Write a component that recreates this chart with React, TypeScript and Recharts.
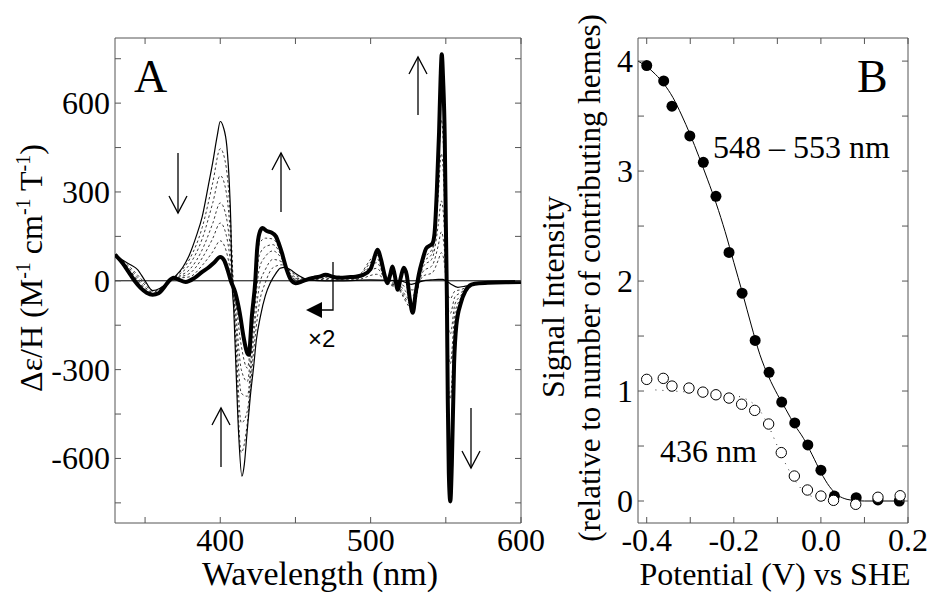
import React from "react";
import { ComposedChart, Line, Scatter, XAxis, YAxis, ReferenceLine, ReferenceArea } from "recharts";

// ---- panel A: spectra (nm, Δε/H) ----
const thickNm = [330, 335, 339, 343, 347, 351, 355, 359, 363, 366, 369, 372, 377, 383, 388, 392, 396, 400, 402.5, 405, 407, 410, 413, 415.5, 418, 419, 421, 423.3, 424.5, 426, 428, 431, 434, 437, 439, 441, 444, 447, 450, 454, 458, 462, 466, 470, 476, 480, 485, 490, 495, 500, 502, 504.5, 507, 509, 511, 513, 514.5, 516, 518, 520, 522, 524, 526, 528, 530, 532, 534.5, 537, 539, 541, 542.5, 544, 545.5, 546.5, 547.3, 548.2, 549.3, 550, 550.7, 551.3, 552, 553, 554, 555.5, 557, 560, 563, 567, 572, 578, 590, 600];
const thickVal = [88, 60, 30, 0, -24, -40, -47, -42, -20, 0, 10, 5, -4, 10, 30, 44, 62, 80, 70, 35, 0, -40, -110, -190, -245, -250, -120, 0, 105, 160, 178, 168, 163, 150, 125, 94, 40, 3, -8, -3, 5, 10, 14, 20, 12, 10, 12, 14, 20, 40, 70, 105, 70, 25, -8, 20, 48, 20, -30, 10, 44, 20, -60, -108, -40, 20, 71, 110, 118, 125, 160, 300, 500, 680, 765, 680, 480, 200, -50, -400, -650, -745, -620, -280, -150, -75, -35, -13, -8, -7, -5, -4];

const thinNm = [330, 335, 340, 345, 350, 355, 360, 365, 370, 375, 379, 384, 388, 392, 395, 398, 400, 402, 404.4, 406, 407, 407.8, 409, 410, 412.2, 414.4, 416, 417.8, 420, 422.2, 424, 426.7, 430, 433.3, 437, 440, 443, 446.7, 450, 453, 457, 460, 470, 480, 500, 510, 520, 527, 530, 535, 540, 545, 548, 550, 553, 558, 563, 570, 580, 600];
const thinVal = [88, 70, 55, 38, 0, -33, -25, -5, 15, 45, 82, 150, 217, 320, 400, 490, 538, 520, 453, 330, 200, 3, -100, -233, -514, -660, -620, -514, -390, -290, -200, -120, -50, -7, 25, 43, 45, 37, 25, 15, 5, 2, 0, 0, 3, 2, 0, -12, -8, 0, 3, 5, 5, 0, -10, -22, -18, -10, -5, -3];

const midNm = [330, 340, 350, 356, 365, 372, 380, 388, 395, 400, 404, 407, 410, 414, 418, 422, 426, 430, 435, 441, 447, 455, 470, 490, 504, 511, 518, 528, 535, 541, 545, 547, 549, 551, 553, 556, 560, 567, 580, 600];
const mid1 = [88, 46, -7, -34, -5, 23, 77, 180, 331, 446, 382, 184, -194, -580, -480, -250, -76, -6, 44, 54, 30, 8, 4, 3, 22, 0, -6, -31, 16, 27, 70, 95, 62, -40, -60, -35, -30, -14, -6, -3];
const mid2 = [88, 40, -14, -37, -6, 19, 58, 142, 263, 355, 299, 138, -156, -480, -440, -205, -17, 38, 72, 64, 23, 5, 8, 6, 42, -2, -12, -50, 32, 52, 120, 165, 108, -80, -110, -55, -40, -14, -6, -3];
const mid3 = [88, 34, -22, -41, -6, 14, 40, 105, 194, 263, 216, 92, -117, -380, -390, -160, 42, 82, 101, 74, 17, 3, 12, 8, 61, -4, -18, -70, 48, 76, 190, 270, 178, -130, -180, -80, -50, -14, -6, -3];
const mid4 = [88, 30, -27, -43, -7, 11, 26, 77, 143, 195, 154, 58, -88, -300, -340, -120, 86, 115, 122, 82, 12, 1, 15, 10, 76, -5, -22, -84, 60, 94, 290, 430, 283, -200, -280, -110, -58, -14, -6, -3];
const mid5 = [88, 26, -32, -45, -7, 8, 14, 52, 98, 135, 100, 28, -63, -220, -295, -90, 125, 144, 141, 88, 7, 0, 18, 12, 88, -7, -26, -96, 70, 110, 370, 545, 360, -280, -400, -140, -65, -14, -6, -3];

const aXMajor = [400, 500, 600];
const aXMinor = [350, 450, 550];
const aYMajor = [-600, -300, 0, 300, 600];
const aYMinor = [-750, -450, -150, 150, 450, 750];

// ---- panel B: titration (V vs SHE, signal) ----
const fillX = [-0.4, -0.361, -0.342, -0.301, -0.27, -0.241, -0.211, -0.181, -0.151, -0.119, -0.09, -0.06, -0.03, 0.0, 0.031, 0.081, 0.131, 0.18];
const fillY = [3.96, 3.82, 3.59, 3.32, 3.08, 2.77, 2.26, 1.89, 1.46, 1.17, 0.9, 0.71, 0.51, 0.28, 0.045, 0.03, 0.01, 0.0];
const openX = [-0.4, -0.362, -0.342, -0.303, -0.271, -0.241, -0.211, -0.182, -0.152, -0.12, -0.091, -0.061, -0.031, 0.0, 0.029, 0.08, 0.131, 0.182];
const openY = [1.106, 1.115, 1.045, 1.027, 0.99, 0.966, 0.936, 0.88, 0.824, 0.7, 0.44, 0.227, 0.1, 0.045, 0.006, -0.03, 0.034, 0.048];
const fitX = [-0.42, -0.4, -0.38, -0.36, -0.34, -0.32, -0.3, -0.28, -0.26, -0.24, -0.22, -0.2, -0.18, -0.16, -0.14, -0.12, -0.1, -0.08, -0.06, -0.04, -0.02, 0, 0.02, 0.04, 0.06, 0.08, 0.1, 0.14, 0.18];
const fitY = [4.0, 3.95, 3.88, 3.79, 3.67, 3.51, 3.33, 3.13, 2.92, 2.7, 2.45, 2.17, 1.89, 1.6, 1.33, 1.13, 0.97, 0.83, 0.69, 0.57, 0.42, 0.26, 0.13, 0.05, 0.015, 0.004, 0, 0, 0];
const dotFitX = [-0.38, -0.34, -0.3, -0.26, -0.22, -0.18, -0.16, -0.14, -0.12, -0.1, -0.08, -0.06, -0.04, -0.02, 0.0, 0.03];
const dotFitY = [1.01, 1.0, 0.99, 0.98, 0.97, 0.94, 0.9, 0.82, 0.68, 0.5, 0.33, 0.19, 0.09, 0.04, 0.015, 0];

const bXMajor = [-0.4, -0.2, 0.0, 0.2];
const bXMinor = [-0.3, -0.1, 0.1];
const bYMajor = [0, 1, 2, 3, 4];
const bYMinor = [0.5, 1.5, 2.5, 3.5];

const SERIF = '"Liberation Serif", "Times New Roman", serif';
const FRAME = "#555";
const TICK = 6;

const pts = (xs: number[], ys: number[]) => xs.map((x, i) => ({ x, y: ys[i] }));
const merge = (a: number[], b: number[]) => [...a, ...b].sort((p, q) => p - q);
const has = (arr: number[], v: number) => arr.some((m) => Math.abs(m - v) < 1e-9);

function xTick(major: number[], top: number, fmt: (v: number) => string) {
  return (props: any) => {
    const { x, y, payload } = props;
    const v = payload.value;
    return (
      <g>
        <line x1={x} x2={x} y1={y} y2={y - TICK} stroke={FRAME} />
        <line x1={x} x2={x} y1={top} y2={top + TICK} stroke={FRAME} />
        {has(major, v) && (
          <text x={x} y={y + 28} textAnchor="middle" fontSize={32} fontFamily={SERIF} fill="#000">
            {fmt(v)}
          </text>
        )}
      </g>
    );
  };
}

function yTick(major: number[], right: number, fmt: (v: number) => string) {
  return (props: any) => {
    const { x, y, payload } = props;
    const v = payload.value;
    return (
      <g>
        <line x1={x} x2={x + TICK} y1={y} y2={y} stroke={FRAME} />
        <line x1={right - TICK} x2={right} y1={y} y2={y} stroke={FRAME} />
        {has(major, v) && (
          <text x={x - 5} y={y + 11} textAnchor="end" fontSize={32} fontFamily={SERIF} fill="#000">
            {fmt(v)}
          </text>
        )}
      </g>
    );
  };
}

function Arrow({ x, y1, y2, up }: { x: number; y1: number; y2: number; up: boolean }) {
  const tip = up ? y1 : y2;
  const back = up ? tip + 17 : tip - 17;
  return (
    <g stroke="#000" strokeWidth={1.3} fill="none">
      <line x1={x} x2={x} y1={y1} y2={y2} />
      <polyline points={`${x - 9},${back} ${x},${tip} ${x + 9},${back}`} />
    </g>
  );
}

const dashed = { stroke: "#222", strokeWidth: 0.9, strokeDasharray: "2.5 2.5", dot: false, activeDot: false, isAnimationActive: false } as const;

export default function App() {
  const A = { w: 570, left: 115, top: 38, right: 521, bottom: 523 };
  const B = { off: 540, w: 391, left: 98, top: 38, right: 368, bottom: 523 };

  return (
    <div style={{ position: "absolute", left: 0, top: 0, width: 931, height: 593, background: "#fff" }}>
      <div style={{ position: "absolute", left: 0, top: 0 }}>
        <ComposedChart width={A.w} height={593} margin={{ top: 38, right: A.w - A.right, bottom: 10, left: 15 }}>
          <XAxis dataKey="x" type="number" domain={[330, 600]} allowDataOverflow ticks={merge(aXMajor, aXMinor)} interval={0}
            height={60} tickSize={0} tickMargin={0} axisLine={false} tickLine={false}
            tick={xTick(aXMajor, A.top, (v) => String(v))} />
          <YAxis type="number" domain={[-818, 820]} allowDataOverflow ticks={merge(aYMajor, aYMinor)} interval={0}
            width={100} tickSize={0} tickMargin={0} axisLine={false} tickLine={false}
            tick={yTick(aYMajor, A.right, (v) => String(v))} />
          <ReferenceArea x1={330} x2={600} y1={-818} y2={820} fill="none" stroke={FRAME} strokeWidth={1} />
          <ReferenceLine y={0} stroke="#000" strokeWidth={1} />
          <Line data={pts(midNm, mid1)} dataKey="y" type="monotone" {...dashed} />
          <Line data={pts(midNm, mid2)} dataKey="y" type="monotone" {...dashed} />
          <Line data={pts(midNm, mid3)} dataKey="y" type="monotone" {...dashed} />
          <Line data={pts(midNm, mid4)} dataKey="y" type="monotone" {...dashed} />
          <Line data={pts(midNm, mid5)} dataKey="y" type="monotone" {...dashed} />
          <Line data={pts(thinNm, thinVal)} dataKey="y" type="monotone" stroke="#000" strokeWidth={1.2} dot={false} activeDot={false} isAnimationActive={false} />
          <Line data={pts(thickNm, thickVal)} dataKey="y" type="monotone" stroke="#000" strokeWidth={4} dot={false} activeDot={false} isAnimationActive={false} />
        </ComposedChart>
      </div>

      <div style={{ position: "absolute", left: B.off, top: 0 }}>
        <ComposedChart width={B.w} height={593} margin={{ top: 38, right: B.w - B.right, bottom: 10, left: 38 }}>
          <XAxis dataKey="x" type="number" domain={[-0.42, 0.2]} allowDataOverflow ticks={merge(bXMajor, bXMinor)} interval={0}
            height={60} tickSize={0} tickMargin={0} axisLine={false} tickLine={false}
            tick={xTick(bXMajor, B.top, (v) => v.toFixed(1))} />
          <YAxis type="number" domain={[-0.2, 4.21]} allowDataOverflow ticks={merge(bYMajor, bYMinor)} interval={0}
            width={60} tickSize={0} tickMargin={0} axisLine={false} tickLine={false}
            tick={yTick(bYMajor, B.right, (v) => String(v))} />
          <ReferenceArea x1={-0.42} x2={0.2} y1={-0.2} y2={4.21} fill="none" stroke={FRAME} strokeWidth={1} />
          <Line data={pts(dotFitX, dotFitY)} dataKey="y" type="monotone" stroke="#333" strokeWidth={1} strokeDasharray="1 6"
            dot={false} activeDot={false} isAnimationActive={false} />
          <Line data={pts(fitX, fitY)} dataKey="y" type="monotone" stroke="#000" strokeWidth={1} dot={false} activeDot={false} isAnimationActive={false} />
          <Scatter data={pts(fillX, fillY)} dataKey="y" isAnimationActive={false}
            shape={(p: any) => <circle cx={p.cx} cy={p.cy} r={5.5} fill="#000" />} />
          <Scatter data={pts(openX, openY)} dataKey="y" isAnimationActive={false}
            shape={(p: any) => <circle cx={p.cx} cy={p.cy} r={5.2} fill="#fff" stroke="#000" strokeWidth={1} />} />
        </ComposedChart>
      </div>

      <svg width={931} height={593} style={{ position: "absolute", left: 0, top: 0, pointerEvents: "none" }} fontFamily={SERIF}>
        <text x={134} y={92} fontSize={46}>A</text>
        <text x={857} y={92} fontSize={46}>B</text>

        <Arrow x={178} y1={153} y2={213} up={false} />
        <Arrow x={281} y1={153} y2={212} up />
        <Arrow x={221} y1={408} y2={467} up />
        <Arrow x={418} y1={57} y2={115} up />
        <Arrow x={471} y1={408} y2={468} up={false} />

        <polyline points="333,262 333,310 321,310" stroke="#000" strokeWidth={1.3} fill="none" />
        <polygon points="306,310 322,302 322,318" fill="#000" />
        <text x={308} y={347} fontSize={24} fontFamily='"Liberation Sans", Arial, sans-serif'>×2</text>

        <text x={713} y={158} fontSize={32}>548 – 553 nm</text>
        <text x={660} y={462} fontSize={32}>436 nm</text>

        <text x={320} y={585} fontSize={34} textAnchor="middle">Wavelength (nm)</text>
        <text x={775} y={585} fontSize={32} textAnchor="middle">Potential (V) vs SHE</text>

        <text transform="translate(42,268) rotate(-90)" fontSize={32} textAnchor="middle">
          Δε/H (M<tspan dy={-12} fontSize={20}>-1</tspan>
          <tspan dy={12}> cm</tspan>
          <tspan dy={-12} fontSize={20}>-1</tspan>
          <tspan dy={12}> T</tspan>
          <tspan dy={-12} fontSize={20}>-1</tspan>
          <tspan dy={12}>)</tspan>
        </text>
        <text transform="translate(564,297) rotate(-90)" fontSize={32} textAnchor="middle">Signal Intensity</text>
        <text transform="translate(600,278) rotate(-90)" fontSize={31} textAnchor="middle">(relative to number of contributing hemes)</text>
      </svg>
    </div>
  );
}
